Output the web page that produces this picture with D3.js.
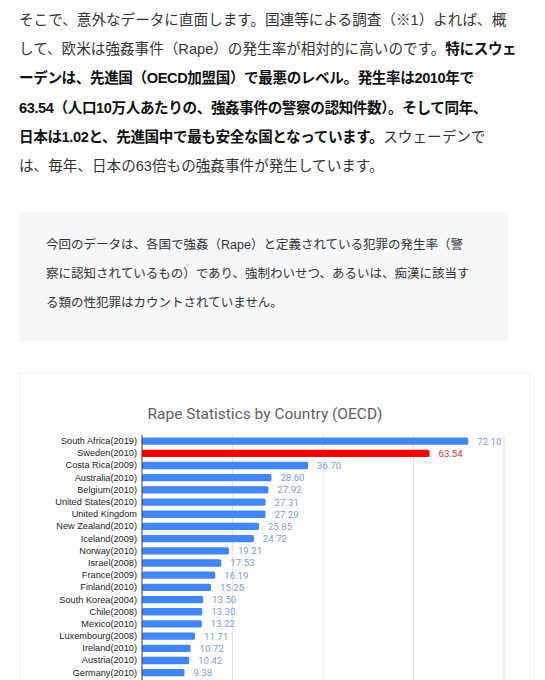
<!DOCTYPE html>
<html>
<head>
<meta charset="utf-8">
<script src="https://cdn.jsdelivr.net/npm/d3@7"></script>
<style>
  body { margin: 0; width: 545px; height: 680px; overflow: hidden; background: #fff;
         font-family: "Liberation Sans", "Noto Sans CJK JP", sans-serif; color: #333; }
  .lead { position: absolute; left: 19px; top: 6px; font-size: 14.6px; line-height: 29.2px; white-space: nowrap; }
  .lead b { color: #111; letter-spacing: -0.4px; }
  .note { position: absolute; left: 19px; top: 212px; width: 489px; height: 130px; background: #f5f7f9; }
  .note div { position: absolute; left: 27px; top: 19px; font-size: 12.5px; line-height: 29px; white-space: nowrap; color: #333; }
  .card { position: absolute; left: 19px; top: 372px; width: 511px; height: 340px; border: 1px solid #eef0f2; box-sizing: border-box; }
  .card svg { position: absolute; left: -1px; top: -1px; }
</style>
</head>
<body>
<div class="lead">
  そこで、意外なデータに直面します。国連等による調査（※1）よれば、概<br>
  して、欧米は強姦事件（Rape）の発生率が相対的に高いのです。<b>特にスウェ</b><br>
  <b>ーデンは、先進国（OECD加盟国）で最悪のレベル。発生率は2010年で</b><br>
  <b>63.54（人口10万人あたりの、強姦事件の警察の認知件数）。そして同年、</b><br>
  <b>日本は1.02と、先進国中で最も安全な国となっています。</b>スウェーデンで<br>
  は、毎年、日本の63倍もの強姦事件が発生しています。
</div>
<div class="note"><div>
  今回のデータは、各国で強姦（Rape）と定義されている犯罪の発生率（警<br>
  察に認知されているもの）であり、強制わいせつ、あるいは、痴漢に該当す<br>
  る類の性犯罪はカウントされていません。
</div></div>
<div class="card" id="chart"></div>
<script>
const countries = ["South Africa(2019)", "Sweden(2010)", "Costa Rica(2009)", "Australia(2010)",
  "Belgium(2010)", "United States(2010)", "United Kingdom", "New Zealand(2010)", "Iceland(2009)",
  "Norway(2010)", "Israel(2008)", "France(2009)", "Finland(2010)", "South Korea(2004)",
  "Chile(2008)", "Mexico(2010)", "Luxembourg(2008)", "Ireland(2010)", "Austria(2010)", "Germany(2010)"];
const rates = [72.10, 63.54, 36.70, 28.60, 27.92, 27.31, 27.29, 25.85, 24.72, 19.21,
  17.53, 16.19, 15.25, 13.50, 13.30, 13.22, 11.71, 10.72, 10.42, 9.38];
const highlight = "Sweden(2010)";
const xTicks = [0, 20, 40, 60, 80];
const title = "Rape Statistics by Country (OECD)";

const data = countries.map((c, i) => ({ country: c, rate: rates[i] }));

const width = 512, height = 342;
const margin = { top: 63, left: 123, right: 27 };
const rowH = 12.19;

const x = d3.scaleLinear()
  .domain([0, 80])
  .range([margin.left, width - margin.right]);

const y = d3.scaleBand()
  .domain(countries)
  .range([margin.top, margin.top + rowH * countries.length])
  .paddingInner(0.4)
  .paddingOuter(0.2);

const svg = d3.select('#chart')
  .append('svg')
  .attr('width', width)
  .attr('height', height);

// title
svg.append('text')
  .attr('x', 246)
  .attr('y', 47)
  .attr('text-anchor', 'middle')
  .style('font-family', 'Roboto, sans-serif')
  .style('font-size', '15.5px')
  .style('fill', '#5f5f5f')
  .text(title);

// gridlines
svg.append('g')
  .selectAll('line')
  .data(xTicks.slice(1))
  .join('line')
  .attr('x1', d => x(d))
  .attr('x2', d => x(d))
  .attr('y1', margin.top)
  .attr('y2', height)
  .style('stroke', '#e3e3e3')
  .style('stroke-width', 1);

// bars
svg.append('g')
  .selectAll('rect')
  .data(data)
  .join('rect')
  .attr('x', x(0))
  .attr('y', d => y(d.country))
  .attr('width', d => x(d.rate) - x(0))
  .attr('height', y.bandwidth())
  .attr('rx', 1.5)
  .style('fill', d => d.country === highlight ? '#ff0000' : '#4285f4');

// value labels
svg.append('g')
  .selectAll('text')
  .data(data)
  .join('text')
  .attr('x', d => x(d.rate) + 9)
  .attr('y', d => y(d.country) + y.bandwidth() / 2)
  .attr('dy', '0.36em')
  .style('font-family', 'Roboto, sans-serif')
  .style('font-size', '9.6px')
  .style('fill', d => d.country === highlight ? '#d83a3a' : '#7a9fdd')
  .text(d => d3.format('.2f')(d.rate));

// category axis
const yAxis = svg.append('g')
  .attr('transform', `translate(${x(0)},0)`)
  .call(d3.axisLeft(y).tickSize(0).tickPadding(5));
yAxis.select('.domain').remove();
yAxis.selectAll('text')
  .style('font-family', '"Liberation Sans", Arial, sans-serif')
  .style('font-size', '9.2px')
  .style('fill', '#1a1a1a');

svg.append('line')
  .attr('x1', x(0))
  .attr('x2', x(0))
  .attr('y1', margin.top)
  .attr('y2', height)
  .style('stroke', '#333')
  .style('stroke-width', 1);
</script>
</body>
</html>
